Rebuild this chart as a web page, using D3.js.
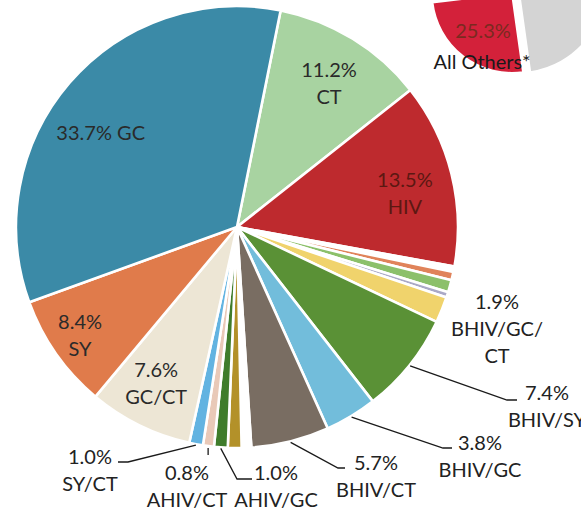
<!DOCTYPE html>
<html>
<head>
<meta charset="utf-8">
<script src="https://cdn.jsdelivr.net/npm/d3@7"></script>
<style>
  body { margin: 0; background: #fff; }
  svg text { font-family: Lato, "Open Sans", sans-serif; font-size: 20px; }
</style>
</head>
<body>
<svg id="chart" width="581" height="513"></svg>
<script>
// Share of cases by infection category (clockwise from CT)
const categories = ["CT", "HIV", "Other A", "Other B", "Other C", "Other D",
  "BHIV/GC/CT", "BHIV/SY", "BHIV/GC", "BHIV/CT", "Other E", "Other F",
  "AHIV/GC", "AHIV/CT", "SY/CT", "GC/CT", "SY", "GC"];
const shares = [11.2, 13.5, 0.4, 0.6, 0.9, 0.4,
  1.9, 7.4, 3.8, 5.7, 0.7, 1.0,
  1.0, 0.8, 1.0, 7.6, 8.4, 33.7];
const sliceColors = ["#a8d3a1", "#be2a2e", "#ffffff", "#e0835a", "#8cc06a", "#aaa9c6",
  "#f0d36c", "#5a9136", "#72bddb", "#796d62", "#ffffff", "#b39129",
  "#3f7c2b", "#e9c9b8", "#62b3e1", "#ede6d5", "#e07b4b", "#3b8aa7"];

// Categories labelled inside their slice
const insideLabels = ["CT", "HIV", "GC/CT", "SY", "GC"];
// Categories labelled outside with a leader line
const outsideLabels = ["BHIV/GC/CT", "BHIV/SY", "BHIV/GC", "BHIV/CT", "AHIV/GC", "AHIV/CT", "SY/CT"];
const outsideText = {
  "BHIV/GC/CT": ["BHIV/GC/", "CT"],
  "BHIV/SY": ["BHIV/SY"],
  "BHIV/GC": ["BHIV/GC"],
  "BHIV/CT": ["BHIV/CT"],
  "AHIV/GC": ["AHIV/GC"],
  "AHIV/CT": ["AHIV/CT"],
  "SY/CT": ["SY/CT"]
};

// Companion pie (partly visible in the corner)
const insetCategories = ["All Others*", "Remainder"];
const insetShares = [25.3, 74.7];
const insetColors = ["#d3213a", "#d4d4d4"];

const fmt = v => d3.format(".1f")(v) + "%";
const data = categories.map((c, i) => ({ key: c, value: shares[i], color: sliceColors[i] }));

const svg = d3.select("#chart");
const deg = Math.PI / 180;

// ---- companion pie (the first slice is pulled out) ----
const ix = 518, iy = -15, iR = 88;
const insetPie = d3.pie().sort(null).value(d => d.value)
  .startAngle(172 * deg).endAngle(172 * deg + 2 * Math.PI);
const insetArcs = insetPie(insetCategories.map((c, i) => ({ key: c, value: insetShares[i], color: insetColors[i] })));
const ig = svg.append("g").attr("transform", `translate(${ix},${iy})`);
insetArcs.forEach((a, i) => {
  const mid = (a.startAngle + a.endAngle) / 2;
  const off = i === 0 ? 10 : 0;
  const r = i === 0 ? 80 : iR;
  ig.append("path")
    .attr("d", d3.arc().innerRadius(0).outerRadius(r)(a))
    .attr("transform", `translate(${off * Math.sin(mid)},${-off * Math.cos(mid)})`)
    .attr("fill", a.data.color)
    .attr("stroke", "#fff").attr("stroke-width", 2);
});
{
  const a = insetArcs[0];
  svg.append("text").attr("x", 483).attr("y", 31).attr("dy", "0.35em")
    .attr("text-anchor", "middle").attr("fill", "#7a2a20").text(fmt(a.data.value));
  svg.append("text").attr("x", 482).attr("y", 62).attr("dy", "0.35em")
    .attr("text-anchor", "middle").attr("fill", "#1a1a1a").text(a.data.key);
}

// ---- main pie ----
const cx = 237, cy = 227, R = 221;
const pie = d3.pie().sort(null).value(d => d.value)
  .startAngle(11.4 * deg).endAngle(11.4 * deg + 2 * Math.PI);
const arcs = pie(data);
const arc = d3.arc().innerRadius(0).outerRadius(R);
const g = svg.append("g").attr("transform", `translate(${cx},${cy})`);

g.selectAll("path.slice").data(arcs).join("path")
  .attr("class", "slice")
  .attr("d", arc)
  .attr("fill", d => d.data.color)
  .attr("stroke", "#fff")
  .attr("stroke-width", 2.6)
  .attr("stroke-linejoin", "round");

const byKey = Object.fromEntries(arcs.map(a => [a.data.key, a]));
const midA = a => (a.startAngle + a.endAngle) / 2;
const polar = (ang, r) => [r * Math.sin(ang), -r * Math.cos(ang)];

// inside labels: placed on the slice bisector, nudged where needed
const insideRadius = { "SY": 188 };
const insideNudge = { "GC": [-6, 18], "HIV": [1, 8], "GC/CT": [-5, 2], "SY": [-3, 0], "CT": [2, 3] };
const insideColor = { "HIV": "#5c1812" };
insideLabels.forEach(k => {
  const a = byKey[k];
  let [x, y] = polar(midA(a), insideRadius[k] || 172);
  const n = insideNudge[k] || [0, 0];
  x += n[0]; y += n[1];
  const color = insideColor[k] || "#2a2a2a";
  if (k === "GC") {
    g.append("text").attr("x", x).attr("y", y).attr("dy", "0.35em")
      .attr("text-anchor", "middle").attr("fill", color)
      .text(fmt(a.data.value) + " " + k);
  } else {
    g.append("text").attr("x", x).attr("y", y - 13).attr("dy", "0.35em")
      .attr("text-anchor", "middle").attr("fill", color).text(fmt(a.data.value));
    g.append("text").attr("x", x).attr("y", y + 14).attr("dy", "0.35em")
      .attr("text-anchor", "middle").attr("fill", color).text(k);
  }
});

// outside labels: text anchor, leader elbow and end (page coordinates)
const outsideLayout = {
  "BHIV/GC/CT": { text: [497, 302] },
  "BHIV/SY": { text: [547, 393], elbow: [507, 400], end: [517, 400] },
  "BHIV/GC": { text: [480, 443], elbow: [443, 448], end: [452, 448] },
  "BHIV/CT": { text: [376, 463], elbow: [338, 468], end: [345, 468] },
  "AHIV/GC": { text: [276, 473], elbow: [237, 479], end: [252, 479] },
  "AHIV/CT": { text: [187, 473], tick: [2, 9] },
  "SY/CT": { text: [90, 457], elbow: [128, 462], end: [118, 462] }
};
const leader = svg.append("g").attr("fill", "none").attr("stroke", "#1a1a1a").attr("stroke-width", 1.3);
outsideLabels.forEach(k => {
  const a = byKey[k];
  const L = outsideLayout[k];
  const m = midA(a);
  if (L.elbow) {
    const [sx, sy] = polar(m, R + 1);
    leader.append("polyline")
      .attr("points", [[cx + sx, cy + sy], L.elbow, L.end].map(p => p.join(",")).join(" "));
  }
  if (L.tick) {
    const [x1, y1] = polar(m, R + L.tick[0]);
    leader.append("line")
      .attr("x1", cx + x1).attr("y1", cy + y1)
      .attr("x2", cx + x1).attr("y2", cy + y1 + (L.tick[1] - L.tick[0]));
  }
  const lines = [fmt(a.data.value)].concat(outsideText[k]);
  lines.forEach((t, i) => {
    svg.append("text").attr("x", L.text[0]).attr("y", L.text[1] + i * 27).attr("dy", "0.35em")
      .attr("text-anchor", "middle").attr("fill", "#222").text(t);
  });
});
</script>
</body>
</html>
